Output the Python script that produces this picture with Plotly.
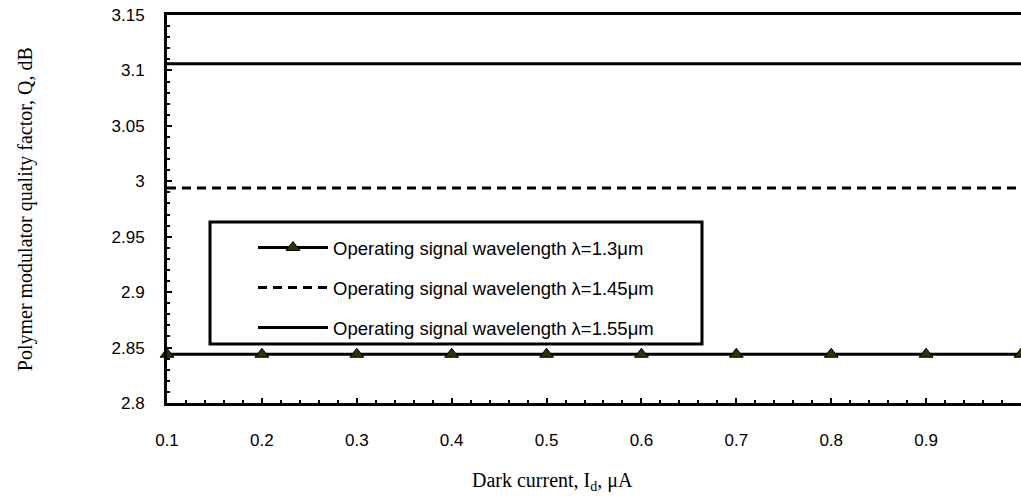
import plotly.graph_objects as go

# Dark current, µA
dark_current = [0.1, 0.2, 0.3, 0.4, 0.5, 0.6, 0.7, 0.8, 0.9, 1.0]

# Quality factor Q (dB) for each operating wavelength
q_1300nm = [2.844, 2.844, 2.844, 2.844, 2.844, 2.844, 2.844, 2.844, 2.844, 2.844]
q_1450nm = [2.994, 2.994, 2.994, 2.994, 2.994, 2.994, 2.994, 2.994, 2.994, 2.994]
q_1550nm = [3.106, 3.106, 3.106, 3.106, 3.106, 3.106, 3.106, 3.106, 3.106, 3.106]

series_names = [
    "Operating signal wavelength λ=1.3μm",
    "Operating signal wavelength λ=1.45μm",
    "Operating signal wavelength λ=1.55μm",
]

x_ticks = [0.1, 0.2, 0.3, 0.4, 0.5, 0.6, 0.7, 0.8, 0.9]
x_tick_text = ["0.1", "0.2", "0.3", "0.4", "0.5", "0.6", "0.7", "0.8", "0.9"]
y_ticks = [2.8, 2.85, 2.9, 2.95, 3.0, 3.05, 3.1, 3.15]
y_tick_text = ["2.8", "2.85", "2.9", "2.95", "3", "3.05", "3.1", "3.15"]
y_minor_ticks = [2.81, 2.82, 2.83, 2.84, 2.86, 2.87, 2.88, 2.89, 2.91, 2.92, 2.93, 2.94,
                 2.96, 2.97, 2.98, 2.99, 3.01, 3.02, 3.03, 3.04, 3.06, 3.07, 3.08, 3.09,
                 3.11, 3.12, 3.13, 3.14]

fig = go.Figure()

fig.add_trace(go.Scatter(
    x=dark_current, y=q_1300nm, name=series_names[0], mode="lines+markers",
    line=dict(color="black", width=3),
    marker=dict(symbol="triangle-up", size=12, color="#333300",
                line=dict(color="black", width=1)),
    legendgroup="a", cliponaxis=False,
))
fig.add_trace(go.Scatter(
    x=dark_current, y=q_1450nm, name=series_names[1], mode="lines",
    line=dict(color="black", width=3, dash="9px,6px"),
    legendgroup="b",
))
fig.add_trace(go.Scatter(
    x=dark_current, y=q_1550nm, name=series_names[2], mode="lines",
    line=dict(color="black", width=3),
    legendgroup="c",
))

sans = "Arial, Liberation Sans, sans-serif"
serif = "Liberation Serif, Times New Roman, serif"
axis_font = dict(family=sans, size=17, color="black")

fig.update_layout(
    width=1021, height=499,
    margin=dict(l=167, r=0, t=15, b=96),
    paper_bgcolor="white", plot_bgcolor="white",
    showlegend=True,
    legend=dict(
        x=0.1007, y=0.4485, xanchor="left", yanchor="top",
        bgcolor="rgba(0,0,0,0)", borderwidth=0,
        font=dict(family=sans, size=18.5, color="black"),
        tracegroupgap=13, itemwidth=70,
    ),
    xaxis=dict(
        range=[0.1, 1.0], tickvals=x_ticks, ticktext=x_tick_text,
        showgrid=False, zeroline=False,
        showline=True, linecolor="black", linewidth=3, mirror=True,
        ticks="inside", ticklen=5, tickwidth=1.5, tickcolor="black",
        minor=dict(dtick=0.02, ticks="inside", ticklen=3, tickwidth=1.5, tickcolor="black"),
        tickfont=axis_font, ticklabelstandoff=20,
    ),
    yaxis=dict(
        range=[2.8, 3.15], tickvals=y_ticks, ticktext=y_tick_text,
        showgrid=False, zeroline=False,
        showline=True, linecolor="black", linewidth=3,
        ticks="inside", ticklen=5, tickwidth=1.5, tickcolor="black",
        minor=dict(tickvals=y_minor_ticks, ticks="inside", ticklen=3,
                   tickwidth=1.5, tickcolor="black"),
        tickfont=axis_font, ticklabelstandoff=16,
    ),
    shapes=[
        # legend frame
        dict(type="rect", xref="paper", yref="paper",
             x0=(210 - 167) / 854, x1=(702 - 167) / 854,
             y0=(403 - 344) / 388, y1=(403 - 222) / 388,
             line=dict(color="black", width=3), fillcolor="white", layer="above"),
    ],
    annotations=[
        dict(text="Dark current, I<sub>d</sub>, μA", xref="paper", yref="paper",
             x=0.451, y=-0.203, xanchor="center", yanchor="middle", showarrow=False,
             font=dict(family=serif, size=20, color="black")),
        dict(text="Polymer modulator quality factor, Q, dB", xref="paper", yref="paper",
             x=-0.166, y=0.5, xanchor="center", yanchor="middle", showarrow=False, textangle=-90,
             font=dict(family=serif, size=20, color="black")),
    ],
)

fig.write_html("out.html")
